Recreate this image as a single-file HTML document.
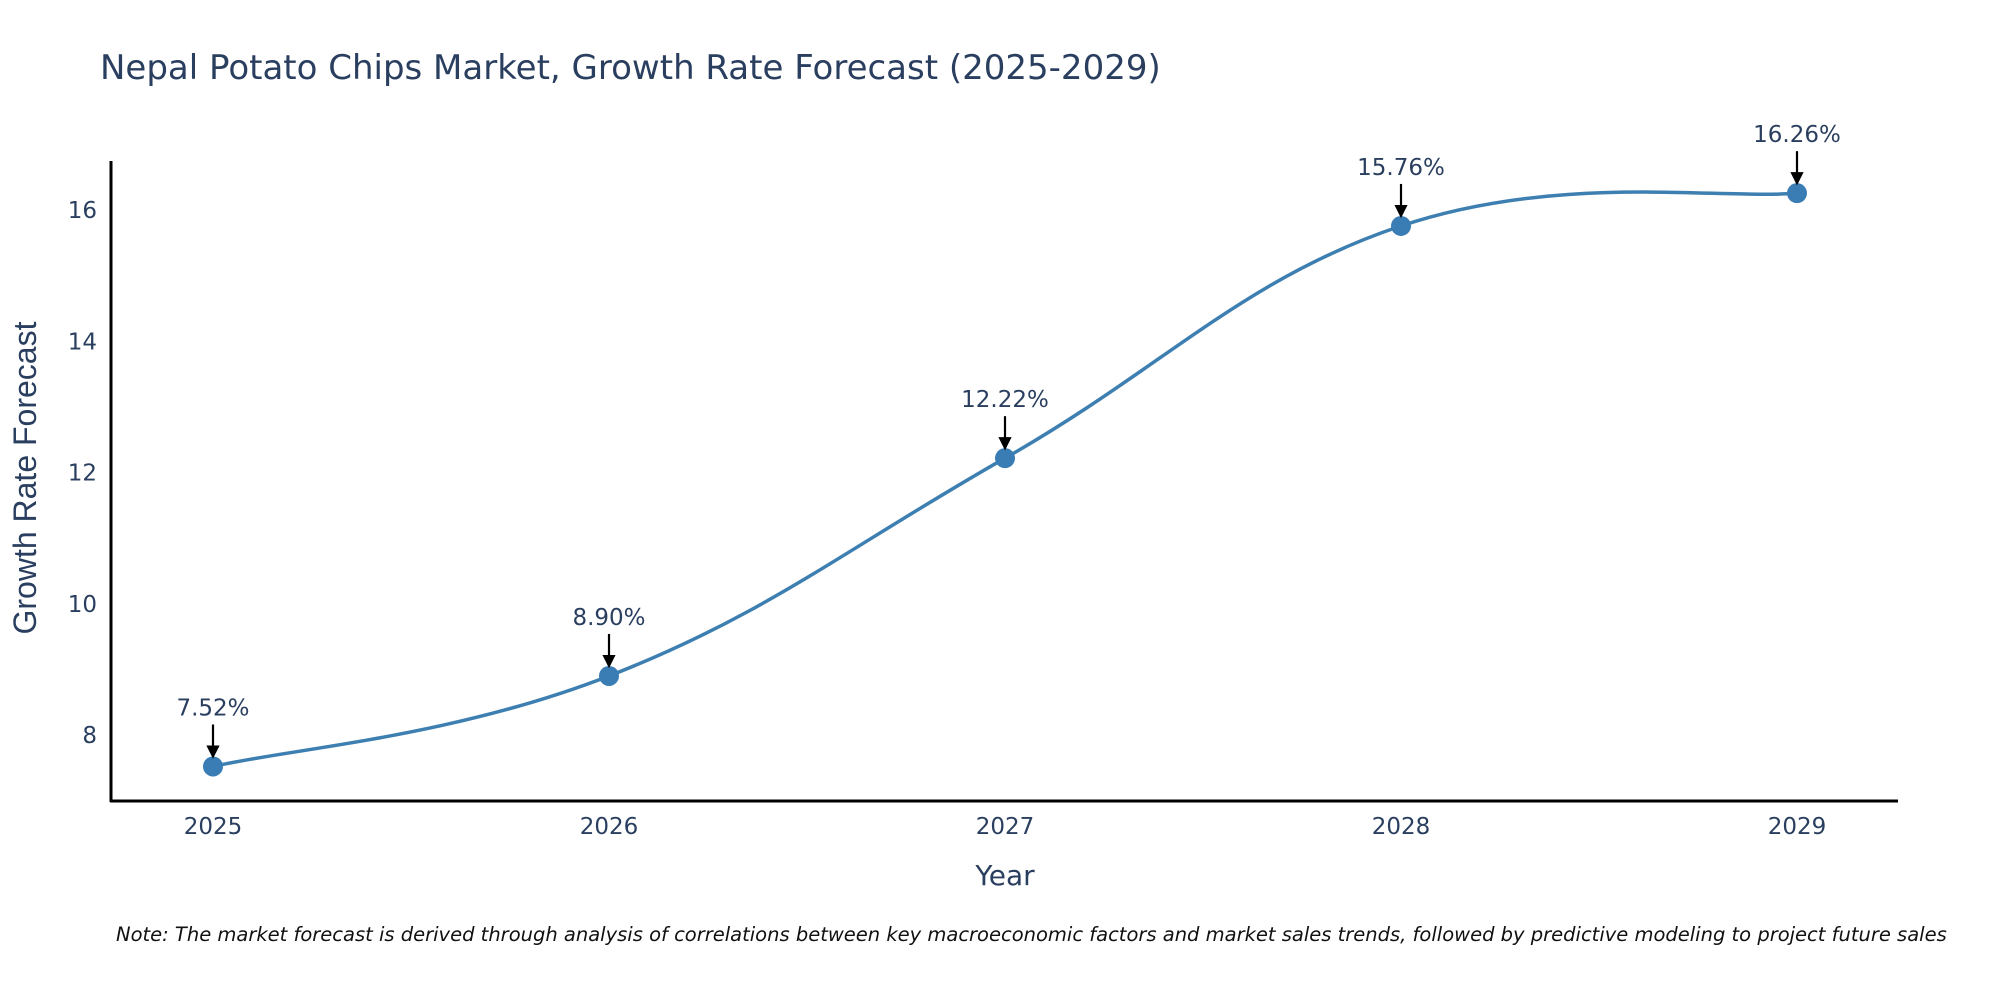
<!DOCTYPE html>
<html><head><meta charset="utf-8"><style>
body{margin:0;background:#fff}
svg{display:block;font-family:"DejaVu Sans","Liberation Sans",sans-serif}
</style></head><body>
<svg id="chart" width="2000" height="1000">
<defs><marker id="ah" markerWidth="6" markerHeight="6" refX="5" refY="3" orient="auto" markerUnits="strokeWidth"><path d="M0,0 L6,3 L0,6 z" fill="#000"/></marker></defs>
<text x="100" y="79" font-size="34" fill="#2a3f5f">Nepal Potato Chips Market, Growth Rate Forecast (2025-2029)</text>
<g id="plot"></g>
<line x1="111" y1="161" x2="111" y2="802" stroke="#000" stroke-width="3"/>
<line x1="110" y1="801" x2="1898" y2="801" stroke="#000" stroke-width="3"/>
<text x="1005" y="885" font-size="28" fill="#2a3f5f" text-anchor="middle">Year</text>
<text transform="translate(36,478) rotate(-90)" font-family="Liberation Sans Narrow, Liberation Sans, sans-serif" font-size="32" fill="#2a3f5f" text-anchor="middle">Growth Rate Forecast</text>
<text x="116" y="941" font-size="19.5" font-style="italic" fill="#111">Note: The market forecast is derived through analysis of correlations between key macroeconomic factors and market sales trends, followed by predictive modeling to project future sales</text>
</svg>
<script>
const years = [2025, 2026, 2027, 2028, 2029];
const rates = [7.52, 8.90, 12.22, 15.76, 16.26];
const yTicks = [8, 10, 12, 14, 16];
const labels = ["7.52%", "8.90%", "12.22%", "15.76%", "16.26%"];
const NS = "http://www.w3.org/2000/svg";
const g = document.getElementById('plot');
const xS = v => 213 + (v - 2025) * 396;
const yS = v => 735 - (v - 8) * 65.6;
function mk(t, a, p) { const e = document.createElementNS(NS, t); for (const k in a) e.setAttribute(k, a[k]); (p || g).appendChild(e); return e; }
yTicks.forEach(t => {
  const e = mk('text', {x: 97, y: yS(t) + 8, 'font-size': 23, fill: '#2a3f5f', 'text-anchor': 'end'});
  
  
  e.textContent = t;
});
years.forEach(yr => {
  const e = mk('text', {x: xS(yr), y: 834, 'font-size': 23, fill: '#2a3f5f', 'text-anchor': 'middle'});
  
  
  e.textContent = yr;
});
const pts = years.map((yr, i) => [xS(yr), yS(rates[i])]);
let d = 'M' + pts[0][0] + ',' + pts[0][1];
for (let i = 0; i < pts.length - 1; i++) {
  const p0 = pts[Math.max(0, i - 1)], p1 = pts[i], p2 = pts[i + 1], p3 = pts[Math.min(pts.length - 1, i + 2)];
  const s = 5;
  d += ' C' + (p1[0] + (p2[0] - p0[0]) / s) + ',' + (p1[1] + (p2[1] - p0[1]) / s) + ' ' + (p2[0] - (p3[0] - p1[0]) / s) + ',' + (p2[1] - (p3[1] - p1[1]) / s) + ' ' + p2[0] + ',' + p2[1];
}
const line = mk('path', {d: d, fill: 'none', stroke: '#3d7fb1', 'stroke-width': 3.5});


pts.forEach((p, i) => {
  const c = mk('circle', {cx: p[0], cy: p[1], r: 10, fill: '#3a7db5'});
  
  
  const a = mk('line', {x1: p[0], y1: p[1] - 42, x2: p[0], y2: p[1] - 10, stroke: '#000', 'stroke-width': 2.2, 'marker-end': 'url(#ah)'});
  
  
  const t = mk('text', {x: p[0], y: p[1] - 51, 'font-size': 23, fill: '#2a3f5f', 'text-anchor': 'middle'});
  
  
  t.textContent = labels[i];
});
</script>
</body></html>
